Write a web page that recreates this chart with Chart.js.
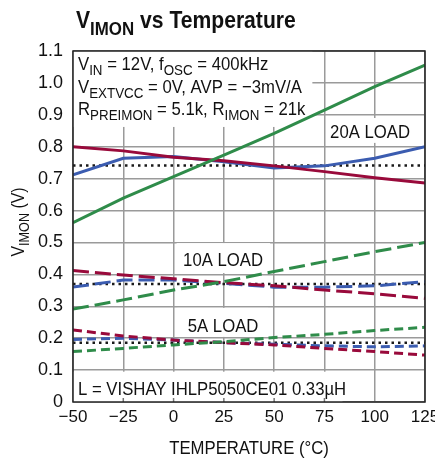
<!DOCTYPE html>
<html>
<head>
<meta charset="utf-8">
<script src="https://cdn.jsdelivr.net/npm/chart.js@4.4.1/dist/chart.umd.min.js"></script>
<style>
  body { margin: 0; background: #fff; }
  #wrap { width: 435px; height: 460px; }
</style>
</head>
<body>
<div id="wrap"><canvas id="imonChart"></canvas></div>
<script>
// temperature points (°C)
var temps = [-50, -25, 0, 25, 50, 75, 100, 125];

// 20A load
var blue20 = [0.712, 0.764, 0.769, 0.753, 0.733, 0.740, 0.764, 0.800];
var red20 = [0.800, 0.787, 0.767, 0.756, 0.740, 0.722, 0.703, 0.686];
var green20 = [0.562, 0.639, 0.706, 0.774, 0.842, 0.915, 0.988, 1.056];
var dot20 = [0.741, 0.741, 0.741, 0.741, 0.741, 0.741, 0.741, 0.741];

// 10A load
var blue10 = [0.360, 0.382, 0.382, 0.372, 0.360, 0.360, 0.364, 0.377];
var red10 = [0.412, 0.398, 0.386, 0.374, 0.364, 0.351, 0.339, 0.325];
var green10 = [0.291, 0.320, 0.351, 0.377, 0.409, 0.440, 0.471, 0.500];
var dot10 = [0.370, 0.370, 0.370, 0.370, 0.370, 0.370, 0.370, 0.370];

// 5A load
var blue5 = [0.196, 0.200, 0.194, 0.186, 0.181, 0.176, 0.173, 0.176];
var red5 = [0.226, 0.207, 0.194, 0.186, 0.179, 0.168, 0.158, 0.147];
var green5 = [0.158, 0.168, 0.179, 0.189, 0.202, 0.212, 0.224, 0.234];
var dot5 = [0.186, 0.186, 0.186, 0.186, 0.186, 0.186, 0.186, 0.186];

var BLUE = '#3b5cb0', RED = '#990a3b', GREEN = '#2f8c4a', DOT = '#1a1a1a';
var FONT = '"Liberation Sans", Arial, sans-serif';
var SX = 0.88; // squeeze text to look like a condensed face

function pts(vals) {
    return temps.map(function (t, i) { return { x: t, y: vals[i] }; });
}

function line(vals, color, dash) {
    return {
        data: pts(vals),
        borderColor: color,
        borderWidth: 3,
        borderDash: dash,
        pointRadius: 0,
        fill: false,
        tension: 0
    };
}

var LONG = [16, 6], SHORT = [9, 5], DOTS = [2.5, 4];

// draws text with subscript parts: [text, isSub]
function richText(ctx, parts, x, y, size, bold, align) {
    var w = 0;
    var weight = bold ? 'bold ' : '';
    parts.forEach(function (p) {
        ctx.font = weight + (p[1] ? size * 0.8 : size) + 'px ' + FONT;
        w += ctx.measureText(p[0]).width;
    });
    ctx.save();
    ctx.translate(x, y);
    ctx.scale(SX, 1);
    var cx = align === 'center' ? -w / 2 : 0;
    parts.forEach(function (p) {
        ctx.font = weight + (p[1] ? size * 0.8 : size) + 'px ' + FONT;
        ctx.fillText(p[0], cx, p[1] ? size * 0.28 : 0);
        cx += ctx.measureText(p[0]).width;
    });
    ctx.restore();
}

// white boxes behind annotations (value coords)
var boxes = [
    [-50, 69, 1.1, 0.862],
    [76, 124, 0.890, 0.812],
    [1.5, 48, 0.498, 0.404],
    [2, 47, 0.295, 0.204],
    [-50, 84, 0.095, 0]
];
var loadLabels = [
    ['20A LOAD', 97.7, 0.828],
    ['10A LOAD', 24.6, 0.426],
    ['5A LOAD', 24.6, 0.219]
];

var annotate = {
    id: 'annotate',
    beforeDatasetsDraw: function (chart) {
        var ctx = chart.ctx, xs = chart.scales.x, ys = chart.scales.y;
        ctx.save();
        ctx.fillStyle = '#fff';
        boxes.forEach(function (b) {
            var x1 = xs.getPixelForValue(b[0]), x2 = xs.getPixelForValue(b[1]);
            var y1 = ys.getPixelForValue(b[2]), y2 = ys.getPixelForValue(b[3]);
            ctx.fillRect(x1, y1, x2 - x1, y2 - y1);
        });
        // small ticks along bottom
        ctx.strokeStyle = '#777';
        ctx.lineWidth = 1.5;
        [-25, 0, 25, 50, 75].forEach(function (t) {
            var x = xs.getPixelForValue(t);
            ctx.beginPath();
            ctx.moveTo(x, chart.chartArea.bottom);
            ctx.lineTo(x, chart.chartArea.bottom - 4);
            ctx.stroke();
        });
        ctx.fillStyle = '#111';
        ctx.textBaseline = 'alphabetic';
        loadLabels.forEach(function (l) {
            richText(ctx, [[l[0], false]], xs.getPixelForValue(l[1]), ys.getPixelForValue(l[2]), 19, false, 'center');
        });
        var left = chart.chartArea.left + 5, top = chart.chartArea.top;
        richText(ctx, [['V', false], ['IN', true], [' = 12V, f', false], ['OSC', true], [' = 400kHz', false]], left, top + 19, 19);
        richText(ctx, [['V', false], ['EXTVCC', true], [' = 0V, AVP = \u22123mV/A', false]], left, top + 42, 19);
        richText(ctx, [['R', false], ['PREIMON', true], [' = 5.1k, R', false], ['IMON', true], [' = 21k', false]], left, top + 64, 19);
        richText(ctx, [['L = VISHAY IHLP5050CE01 0.33\u00b5H', false]], left, chart.chartArea.bottom - 7, 19);
        ctx.restore();
    },
    afterDraw: function (chart) {
        var ctx = chart.ctx, a = chart.chartArea;
        ctx.save();
        ctx.strokeStyle = '#222';
        ctx.lineWidth = 1.5;
        ctx.strokeRect(a.left, a.top, a.right - a.left, a.bottom - a.top);
        ctx.fillStyle = '#111';
        // title
        richText(ctx, [['V', false], ['IMON', true], [' vs Temperature', false]], 76, 28, 24, true);
        // axis titles
        ctx.textBaseline = 'alphabetic';
        richText(ctx, [['TEMPERATURE (\u00b0C)', false]], (a.left + a.right) / 2, 454, 19, false, 'center');
        ctx.translate(24, 222);
        ctx.rotate(-Math.PI / 2);
        richText(ctx, [['V', false], ['IMON', true], [' (V)', false]], 0, 0, 18, false, 'center');
        ctx.restore();
    }
};

var ctx = document.getElementById('imonChart');

var imonChart = new Chart(ctx, {
    type: 'line',
    data: {
        datasets: [
            line(green20, GREEN, []),
            line(red20, RED, []),
            line(blue20, BLUE, []),
            line(green10, GREEN, LONG),
            line(red10, RED, LONG),
            line(blue10, BLUE, LONG),
            line(green5, GREEN, SHORT),
            line(red5, RED, SHORT),
            line(blue5, BLUE, SHORT),
            Object.assign(line(dot20, DOT, DOTS), { borderWidth: 2.5 }),
            Object.assign(line(dot10, DOT, DOTS), { borderWidth: 2.5 }),
            Object.assign(line(dot5, DOT, DOTS), { borderWidth: 2.5 })
        ]
    },
    options: {
        responsive: true,
        maintainAspectRatio: false,
        animation: false,
        layout: { padding: { top: 51, right: 10, left: 0, bottom: 0 } },
        plugins: { legend: { display: false }, tooltip: { enabled: false } },
        scales: {
            x: {
                type: 'linear',
                min: -50,
                max: 125,
                afterBuildTicks: function (s) {
                    s.ticks = temps.map(function (t) { return { value: t }; });
                },
                afterFit: function (s) {
                    s.height = 58;
                    s.paddingLeft = 0;
                    s.paddingRight = 0;
                },
                grid: { color: '#9a9a9a', lineWidth: 1.5, drawTicks: false },
                border: { display: false },
                ticks: {
                    color: '#111',
                    padding: 5,
                    maxRotation: 0,
                    font: { family: FONT, size: 17 },
                    callback: function (v) { return String(v).replace('-', '\u2212'); }
                }
            },
            y: {
                min: 0,
                max: 1.1,
                afterFit: function (s) {
                    s.width = 73;
                    s.paddingTop = 0;
                    s.paddingBottom = 0;
                },
                grid: { color: '#9a9a9a', lineWidth: 1.5, drawTicks: false },
                border: { display: false },
                ticks: {
                    stepSize: 0.1,
                    color: '#111',
                    padding: 10,
                    font: { family: FONT, size: 18 },
                    callback: function (v) { return v === 0 ? '0' : v.toFixed(1); }
                }
            }
        }
    },
    plugins: [annotate]
});
</script>
</body>
</html>
